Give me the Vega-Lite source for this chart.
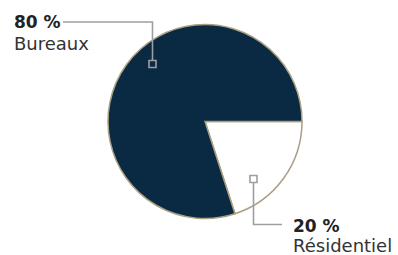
{
  "$schema": "https://vega.github.io/schema/vega-lite/v6.json",
  "width": 398,
  "height": 255,
  "autosize": {"type": "none"},
  "padding": 0,
  "background": "white",
  "config": {"view": {"stroke": null}},
  "datasets": {
    "shares": [
      {"segment": "Résidentiel", "pct": 20, "rank": 1},
      {"segment": "Bureaux", "pct": 80, "rank": 2}
    ],
    "leaders": [
      {"segment": "Bureaux", "step": 1, "x": 152.5, "y": 60},
      {"segment": "Bureaux", "step": 2, "x": 152.5, "y": 22},
      {"segment": "Bureaux", "step": 3, "x": 63, "y": 22},
      {"segment": "Résidentiel", "step": 1, "x": 253.5, "y": 183},
      {"segment": "Résidentiel", "step": 2, "x": 253.5, "y": 224.5},
      {"segment": "Résidentiel", "step": 3, "x": 282, "y": 224.5}
    ],
    "markers": [
      {"segment": "Bureaux", "x": 152.5, "y": 64},
      {"segment": "Résidentiel", "x": 253.5, "y": 179}
    ],
    "labels": [
      {"segment": "Bureaux", "text": "80 %", "kind": "pct", "x": 14, "y": 28},
      {"segment": "Bureaux", "text": "Bureaux", "kind": "name", "x": 14, "y": 50},
      {"segment": "Résidentiel", "text": "20 %", "kind": "pct", "x": 293, "y": 232},
      {"segment": "Résidentiel", "text": "Résidentiel", "kind": "name", "x": 293, "y": 252}
    ]
  },
  "layer": [
    {
      "data": {"name": "shares"},
      "mark": {"type": "arc", "outerRadius": 97, "stroke": "#a99f83", "strokeWidth": 1.5},
      "encoding": {
        "x": {"datum": 205, "type": "quantitative", "scale": {"domain": [0, 398], "nice": false}, "axis": null},
        "y": {"datum": 121.5, "type": "quantitative", "scale": {"domain": [0, 255], "reverse": true, "nice": false}, "axis": null},
        "theta": {"field": "pct", "type": "quantitative", "scale": {"range": [1.5708, 7.854]}},
        "order": {"field": "rank", "type": "quantitative"},
        "color": {"field": "segment", "type": "nominal", "scale": {"domain": ["Résidentiel", "Bureaux"], "range": ["#ffffff", "#0a2942"]}, "legend": null}
      }
    },
    {
      "data": {"name": "leaders"},
      "mark": {"type": "line", "stroke": "#9f9f9f", "strokeWidth": 1.6, "strokeCap": "butt", "strokeJoin": "miter"},
      "encoding": {
        "x": {"field": "x", "type": "quantitative", "axis": null},
        "y": {"field": "y", "type": "quantitative", "axis": null},
        "detail": {"field": "segment"},
        "order": {"field": "step", "type": "quantitative"}
      }
    },
    {
      "data": {"name": "markers"},
      "mark": {"type": "point", "shape": "square", "size": 49, "filled": false, "stroke": "#9f9f9f", "strokeWidth": 1.6, "opacity": 1},
      "encoding": {
        "x": {"field": "x", "type": "quantitative", "axis": null},
        "y": {"field": "y", "type": "quantitative", "axis": null}
      }
    },
    {
      "data": {"name": "labels"},
      "transform": [{"filter": "datum.kind === 'pct'"}],
      "mark": {"type": "text", "align": "left", "baseline": "alphabetic", "font": "DejaVu Sans", "fontSize": 17, "fontWeight": "bold", "color": "#222222"},
      "encoding": {
        "x": {"field": "x", "type": "quantitative", "axis": null},
        "y": {"field": "y", "type": "quantitative", "axis": null},
        "text": {"field": "text"}
      }
    },
    {
      "data": {"name": "labels"},
      "transform": [{"filter": "datum.kind === 'name'"}],
      "mark": {"type": "text", "align": "left", "baseline": "alphabetic", "font": "DejaVu Sans", "fontSize": 18, "fontWeight": "normal", "color": "#333333"},
      "encoding": {
        "x": {"field": "x", "type": "quantitative", "axis": null},
        "y": {"field": "y", "type": "quantitative", "axis": null},
        "text": {"field": "text"}
      }
    }
  ]
}
